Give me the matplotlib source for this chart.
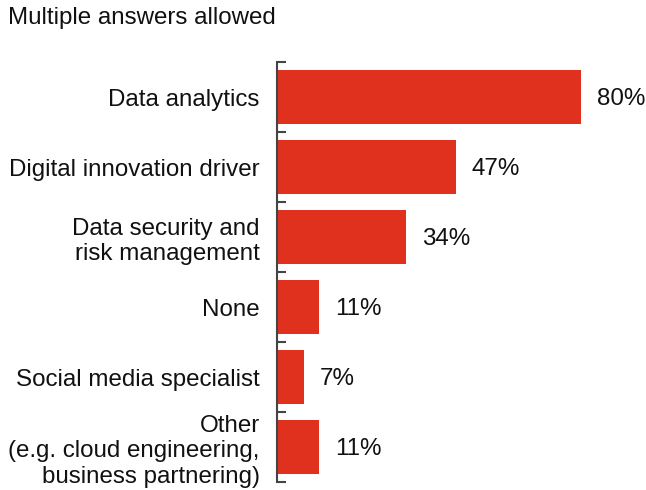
import matplotlib.pyplot as plt
import numpy as np

plt.rcParams['font.family'] = ['Liberation Sans', 'DejaVu Sans']

categories = [
    'Data analytics',
    'Digital innovation driver',
    'Data security and\nrisk management',
    'None',
    'Social media specialist',
    'Other\n(e.g. cloud engineering,\nbusiness partnering)',
]
values = [80, 47, 34, 11, 7, 11]

bar_color = '#E0301E'
axis_color = '#444444'
fs = 17.4

W, H = 646, 490
fig = plt.figure(figsize=(W / 100, H / 100), dpi=100)
ax = fig.add_axes([277 / W, 8 / H, (W - 277) / W, 420 / H])

y = np.arange(len(categories))
ax.barh(y, values, height=0.76, color=bar_color, left=0)
ax.set_ylim(len(categories) - 0.5, -0.5)
ax.set_xlim(0, (W - 277) / 3.8)

# percentage labels to the right of each bar
for yi, v in zip(y, values):
    ax.annotate(f'{v}%', (v, yi), xytext=(11.5, -1.5), textcoords='offset points',
                va='center', ha='left', fontsize=fs, color='#111111')

ax.set_yticks(y)
ax.set_yticklabels(categories, fontsize=fs, color='#111111', linespacing=1.2)
ax.tick_params(axis='y', which='major', length=0, pad=12.5)
ax.set_yticks(np.arange(len(categories) + 1) - 0.5, minor=True)
ax.tick_params(axis='y', which='minor', direction='in', length=6.5, width=1.5,
               color=axis_color)

ax.set_xticks([])
for s in ['top', 'right', 'bottom']:
    ax.spines[s].set_visible(False)
ax.spines['left'].set_color(axis_color)
ax.spines['left'].set_linewidth(1.5)

fig.text(8 / W, 1 - 18 / H, 'Multiple answers allowed', fontsize=fs,
         va='center', ha='left', color='#111111')

fig.savefig('out.png', dpi=100)
